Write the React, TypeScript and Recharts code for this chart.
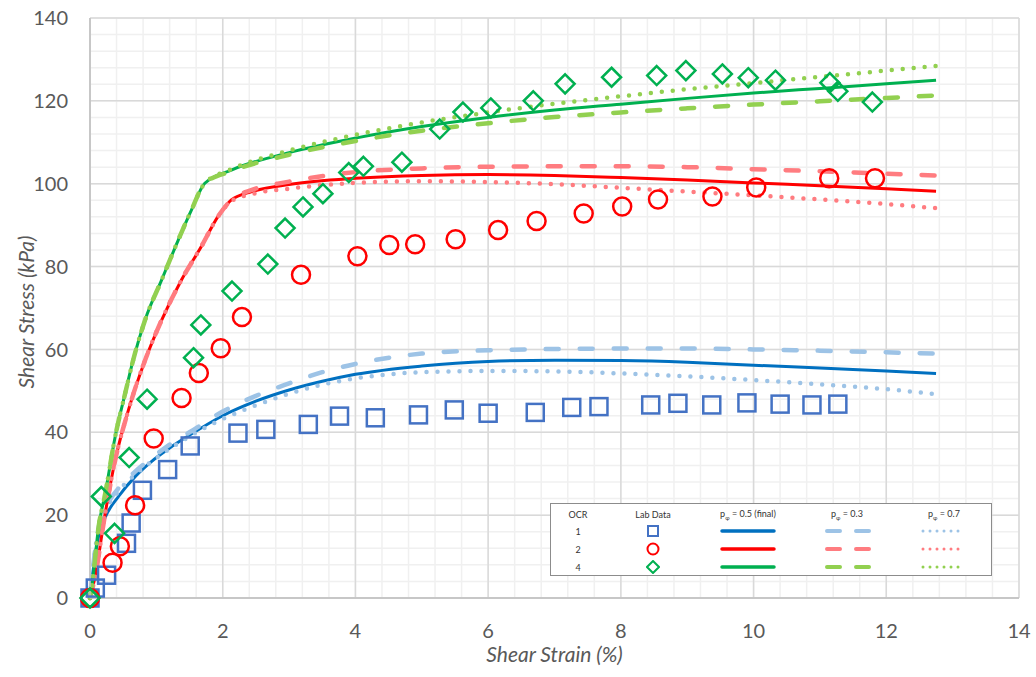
import { ComposedChart, Line, Scatter, XAxis, YAxis, CartesianGrid, Label } from 'recharts'

// axis ticks and grid subdivisions
const xTicks = [0, 2, 4, 6, 8, 10, 12, 14]
const yTicks = [0, 20, 40, 60, 80, 100, 120, 140]
const minorXStep = 0.4
const minorYStep = 4

// lab data (hollow markers)
const labStrainOcr1 = [0, 0.08, 0.25, 0.55, 0.62, 0.79, 1.17, 1.51, 2.23, 2.65, 3.29, 3.76, 4.3, 4.95, 5.49, 6.0, 6.71, 7.26, 7.67, 8.45, 8.86, 9.37, 9.9, 10.4, 10.88, 11.27]
const labStressOcr1 = [0, 2.4, 5.5, 13.2, 18.1, 26, 31, 36.7, 39.8, 40.7, 41.9, 43.9, 43.5, 44.2, 45.4, 44.6, 44.8, 46.0, 46.2, 46.6, 47.0, 46.6, 47.1, 46.8, 46.6, 46.8]

const labStrainOcr2 = [0, 0.34, 0.45, 0.68, 0.96, 1.38, 1.64, 1.97, 2.29, 3.18, 4.03, 4.51, 4.9, 5.51, 6.15, 6.73, 7.44, 8.02, 8.56, 9.38, 10.04, 11.14, 11.83]
const labStressOcr2 = [0, 8.5, 12.5, 22.4, 38.5, 48.3, 54.3, 60.3, 67.8, 78, 82.5, 85.2, 85.4, 86.6, 88.8, 91.0, 92.8, 94.5, 96.2, 96.9, 99.1, 101.3, 101.3]

const labStrainOcr4 = [0, 0.17, 0.37, 0.59, 0.86, 1.56, 1.67, 2.14, 2.68, 2.94, 3.21, 3.51, 3.9, 4.12, 4.7, 5.27, 5.62, 6.04, 6.68, 7.16, 7.86, 8.54, 8.98, 9.53, 9.92, 10.33, 11.15, 11.27, 11.79]
const labStressOcr4 = [0, 24.5, 15.6, 33.9, 48.0, 58.0, 65.9, 74.1, 80.6, 89.3, 94.4, 97.6, 102.7, 104.2, 105.2, 113.2, 117.3, 118.3, 120.0, 124.1, 125.7, 126.1, 127.3, 126.5, 125.6, 125.0, 124.4, 122.3, 119.7]

// model curves, p = 0.5 (final), 0.3 and 0.7
const modelStrainOcr1 = [0, 0.05, 0.13, 0.23, 0.43, 0.68, 0.93, 1.2, 1.5, 2, 2.5, 3, 3.5, 4, 5, 6, 7, 8, 9, 10, 11, 12, 12.75]
const finalOcr1 = [0, 7, 15, 19.5, 24.5, 29.3, 33, 36.2, 39.3, 44, 47.5, 50.2, 52.3, 54, 56, 57.1, 57.4, 57.3, 56.9, 56.2, 55.5, 54.8, 54.2]
const p03Ocr1 = [0, 8, 17, 21.5, 26.5, 30.5, 33.8, 37, 40, 45, 48.8, 51.8, 54.5, 56.5, 59, 59.8, 60.1, 60.2, 60.2, 60, 59.7, 59.3, 59]
const p07Ocr1 = [0, 8, 17, 21, 25.8, 29.8, 33, 36, 39, 43.2, 46.5, 49.3, 51.5, 53, 54.5, 54.8, 54.7, 54.2, 53.5, 52.6, 51.6, 50.4, 49.2]

const modelStrainOcr2 = [0, 0.075, 0.23, 0.38, 0.58, 0.83, 1.08, 1.38, 1.68, 1.93, 2.13, 2.44, 3, 4, 5, 6, 7, 8, 9, 10, 11, 12, 12.75]
const finalOcr2 = [0, 5, 20.5, 33.3, 45.4, 57.4, 67.1, 76.8, 84.9, 92.1, 96.1, 98.1, 99.8, 101.3, 102, 102.2, 102, 101.5, 100.9, 100.2, 99.5, 98.8, 98.2]
const p03Ocr2 = [0, 5, 20.5, 33.3, 45.4, 57.4, 67.1, 76.8, 84.9, 92.1, 96.1, 98.5, 100.5, 102.8, 103.7, 104.1, 104.2, 104.2, 104, 103.5, 103, 102.4, 102]
const p07Ocr2 = [0, 5, 20.5, 33.3, 45.4, 57.4, 67.1, 76.8, 84.9, 92.1, 95.8, 97.5, 98.8, 100.2, 100.6, 100.4, 99.9, 99, 98.1, 97.2, 96.2, 95.1, 94.1]

const modelStrainOcr4 = [0, 0.03, 0.13, 0.23, 0.38, 0.53, 0.65, 0.83, 1.08, 1.33, 1.53, 1.73, 2.13, 3, 4, 5, 6, 7, 8, 9, 10, 11, 12, 12.75]
const finalOcr4 = [0, 3, 17.2, 25.3, 39, 49.4, 57.4, 67.1, 76.8, 86.4, 93.7, 100.1, 103.3, 107.5, 111, 113.8, 116, 117.8, 119.2, 120.6, 121.9, 123, 124.1, 125]
const p03Ocr4 = [0, 3, 17.2, 25.3, 39, 49.4, 57.4, 67.1, 76.8, 86.4, 93.7, 100.1, 103, 107, 110.3, 112.8, 114.6, 116.1, 117.2, 118.2, 119.1, 119.9, 120.7, 121.3]
const p07Ocr4 = [0, 3, 17.2, 25.3, 39, 49.4, 57.4, 67.1, 76.8, 86.4, 93.7, 100.1, 103.5, 108, 111.8, 114.8, 117.2, 119.3, 121.1, 122.8, 124.3, 125.8, 127.3, 128.4]

const pts = (xs: number[], ys: number[]) => xs.map((x, i) => ({ x, y: ys[i] }))

const steps = (max: number, step: number) => {
  const out: number[] = []
  for (let v = 0; v <= max + 1e-9; v += step) out.push(+v.toFixed(2))
  return out
}

const FONT = 'Lato, "Open Sans", sans-serif'
const TEXT = '#595959'

const BLUE = '#0070C0'
const BLUE_LIGHT = '#9DC3E6'
const RED = '#FF0000'
const RED_LIGHT = '#FF7C80'
const GREEN = '#00B050'
const GREEN_LIGHT = '#92D050'
const SQUARE = '#4472C4'

const DASH = { strokeWidth: 4.5, strokeDasharray: '13 21', strokeLinecap: 'round' as const }
const DOT = { strokeWidth: 4.5, strokeDasharray: '0 11', strokeLinecap: 'round' as const }

const SquareMark = (p: any) => (
  <rect x={p.cx - 8.5} y={p.cy - 8.5} width={17} height={17} fill="none" stroke={SQUARE} strokeWidth={2.5} />
)
const CircleMark = (p: any) => <circle cx={p.cx} cy={p.cy} r={9} fill="none" stroke={RED} strokeWidth={2.5} />
const DiamondMark = (p: any) => (
  <polygon
    points={`${p.cx},${p.cy - 9.5} ${p.cx + 9.5},${p.cy} ${p.cx},${p.cy + 9.5} ${p.cx - 9.5},${p.cy}`}
    fill="none"
    stroke={GREEN}
    strokeWidth={2.5}
  />
)

// grid line positions from the axis scales
const gridX = (values: number[]) => ({ xAxis, offset }: any) =>
  values.map((v) => (xAxis && typeof xAxis.scale === 'function' ? xAxis.scale(v) : offset.left + (v / 14) * offset.width))
const gridY = (values: number[]) => ({ yAxis, offset }: any) =>
  values.map((v) => (yAxis && typeof yAxis.scale === 'function' ? yAxis.scale(v) : offset.top + offset.height - (v / 140) * offset.height))

const legendRows = [
  { ocr: '1', dark: BLUE, light: BLUE_LIGHT, mark: 'square' },
  { ocr: '2', dark: RED, light: RED_LIGHT, mark: 'circle' },
  { ocr: '4', dark: GREEN, light: GREEN_LIGHT, mark: 'diamond' },
]

function LegendTable() {
  const cell = (left: number, top: number, children: any, w = 80) => (
    <div
      style={{
        position: 'absolute',
        left: left - w / 2,
        top: top - 7,
        width: w,
        height: 14,
        display: 'flex',
        alignItems: 'center',
        justifyContent: 'center',
        whiteSpace: 'nowrap',
      }}
    >
      {children}
    </div>
  )
  const p = (v: string) => (
    <span>
      p<sub style={{ fontSize: 6 }}>φ</sub> = {v}
    </span>
  )
  return (
    <div
      style={{
        position: 'absolute',
        left: 550,
        top: 503,
        width: 440,
        height: 71,
        border: '1px solid #8c8c8c',
        background: '#fff',
        fontFamily: FONT,
        fontSize: 9,
        color: '#333',
      }}
    >
      {cell(27, 10, 'OCR')}
      {cell(102, 10, 'Lab Data')}
      {cell(197, 10, p('0.5 (final)'))}
      {cell(296, 10, p('0.3'))}
      {cell(393, 10, p('0.7'))}
      {legendRows.map((r, i) => {
        const y = 27 + i * 18
        return (
          <div key={r.ocr}>
            {cell(27, y, r.ocr)}
            {cell(
              102,
              y,
              <svg width={14} height={14}>
                {r.mark === 'square' && <rect x={2} y={2} width={10} height={10} fill="none" stroke={SQUARE} strokeWidth={2} />}
                {r.mark === 'circle' && <circle cx={7} cy={7} r={5.5} fill="none" stroke={RED} strokeWidth={2} />}
                {r.mark === 'diamond' && <polygon points="7,1 13,7 7,13 1,7" fill="none" stroke={GREEN} strokeWidth={2} />}
              </svg>
            )}
            {cell(
              197,
              y,
              <svg width={60} height={8}>
                <line x1={4} y1={4} x2={56} y2={4} stroke={r.dark} strokeWidth={3.5} strokeLinecap="round" />
              </svg>
            )}
            {cell(
              296,
              y,
              <svg width={60} height={8}>
                <line x1={10} y1={4} x2={52} y2={4} stroke={r.light} strokeWidth={4} strokeDasharray="13 16" strokeLinecap="round" />
              </svg>
            )}
            {cell(
              393,
              y,
              <svg width={50} height={8}>
                <line x1={4} y1={4} x2={46} y2={4} stroke={r.light} strokeWidth={3} strokeDasharray="0 7" strokeLinecap="round" />
              </svg>
            )}
          </div>
        )
      })}
    </div>
  )
}

export default function App() {
  const series = [
    { strain: modelStrainOcr1, final: finalOcr1, p03: p03Ocr1, p07: p07Ocr1, dark: BLUE, light: BLUE_LIGHT },
    { strain: modelStrainOcr2, final: finalOcr2, p03: p03Ocr2, p07: p07Ocr2, dark: RED, light: RED_LIGHT },
    { strain: modelStrainOcr4, final: finalOcr4, p03: p03Ocr4, p07: p07Ocr4, dark: GREEN, light: GREEN_LIGHT },
  ]

  return (
    <div style={{ position: 'absolute', left: 0, top: 0, width: 1036, height: 677, background: '#fff' }}>
      <ComposedChart width={1036} height={677} margin={{ top: 18, right: 17, bottom: 0, left: 0 }}>
        <CartesianGrid
          stroke="#F0F0F0"
          strokeWidth={1.5}
          verticalCoordinatesGenerator={gridX(steps(14, minorXStep))}
          horizontalCoordinatesGenerator={gridY(steps(140, minorYStep))}
        />
        <CartesianGrid
          stroke="#D9D9D9"
          strokeWidth={1.5}
          verticalCoordinatesGenerator={gridX(xTicks)}
          horizontalCoordinatesGenerator={gridY(yTicks)}
        />
        <XAxis
          type="number"
          dataKey="x"
          domain={[0, 14]}
          ticks={xTicks}
          height={79}
          tickLine={false}
          tickSize={0}
          tickMargin={26}
          axisLine={{ stroke: '#BFBFBF', strokeWidth: 1.5 }}
          tick={{ fill: TEXT, fontSize: 20, fontFamily: FONT }}
        >
          <Label
            content={({ viewBox }: any) => (
              <text
                x={viewBox.x + viewBox.width / 2}
                y={viewBox.y + 64}
                textAnchor="middle"
                fill={TEXT}
                fontSize={21}
                fontStyle="italic"
                fontFamily={FONT}
              >
                Shear Strain (%)
              </text>
            )}
          />
        </XAxis>
        <YAxis
          type="number"
          dataKey="y"
          domain={[0, 140]}
          ticks={yTicks}
          width={90}
          tickLine={false}
          tickSize={0}
          tickMargin={22}
          axisLine={{ stroke: '#BFBFBF', strokeWidth: 1.5 }}
          tick={{ fill: TEXT, fontSize: 20, fontFamily: FONT }}
        >
          <Label
            content={({ viewBox }: any) => {
              const cx = viewBox.x + 25
              const cy = viewBox.y + viewBox.height / 2 + 4
              return (
                <text
                  x={cx}
                  y={cy}
                  transform={`rotate(-90 ${cx} ${cy})`}
                  textAnchor="middle"
                  dominantBaseline="central"
                  fill={TEXT}
                  fontSize={21}
                  fontStyle="italic"
                  fontFamily={FONT}
                >
                  Shear Stress (kPa)
                </text>
              )
            }}
          />
        </YAxis>

        {series.flatMap((s, i) => [
          <Line
            key={`final-${i}`}
            data={pts(s.strain, s.final)}
            dataKey="y"
            type="monotone"
            stroke={s.dark}
            strokeWidth={3}
            dot={false}
            activeDot={false}
            isAnimationActive={false}
          />,
          <Line
            key={`p03-${i}`}
            data={pts(s.strain, s.p03)}
            dataKey="y"
            type="monotone"
            stroke={s.light}
            {...DASH}
            dot={false}
            activeDot={false}
            isAnimationActive={false}
          />,
          <Line
            key={`p07-${i}`}
            data={pts(s.strain, s.p07)}
            dataKey="y"
            type="monotone"
            stroke={s.light}
            {...DOT}
            dot={false}
            activeDot={false}
            isAnimationActive={false}
          />,
        ])}

        <Scatter data={pts(labStrainOcr1, labStressOcr1)} dataKey="y" shape={SquareMark} isAnimationActive={false} />
        <Scatter data={pts(labStrainOcr2, labStressOcr2)} dataKey="y" shape={CircleMark} isAnimationActive={false} />
        <Scatter data={pts(labStrainOcr4, labStressOcr4)} dataKey="y" shape={DiamondMark} isAnimationActive={false} />
      </ComposedChart>
      <LegendTable />
    </div>
  )
}
